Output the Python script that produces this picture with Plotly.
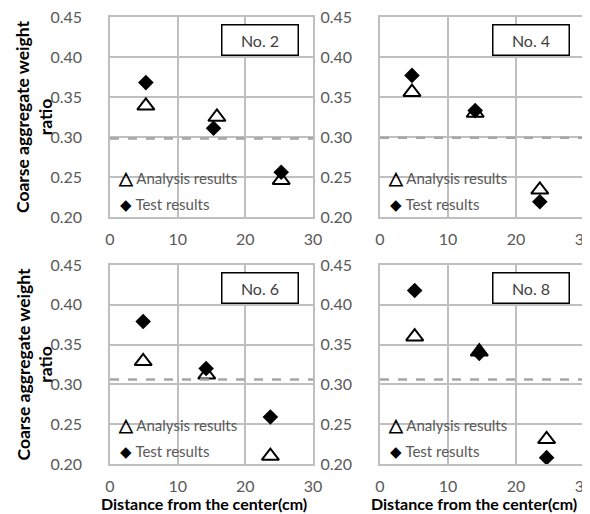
import plotly.graph_objects as go

panels = ["No. 2", "No. 4", "No. 6", "No. 8"]
analysis_x = [[5.3, 15.8, 25.3], [4.7, 14.0, 23.5], [4.9, 14.3, 23.7], [5.1, 14.6, 24.5]]
analysis_y = [[0.339, 0.325, 0.246], [0.356, 0.330, 0.234], [0.329, 0.312, 0.210], [0.360, 0.341, 0.231]]
test_x = [[5.3, 15.3, 25.3], [4.7, 14.0, 23.5], [4.9, 14.2, 23.7], [5.1, 14.6, 24.5]]
test_y = [[0.368, 0.311, 0.256], [0.377, 0.333, 0.219], [0.379, 0.320, 0.259], [0.418, 0.339, 0.208]]
reference_line = [0.298, 0.299, 0.306, 0.306]
x_ticks = [0, 10, 20, 30]
y_ticks = [0.20, 0.25, 0.30, 0.35, 0.40, 0.45]
legend_names = ["Analysis results", "Test results"]

W, H = 590, 514
OFF = 8  # page body margin


def px(v):
    return (v - OFF) / W


def py(v):
    return 1 - (v - OFF) / H


xdom = [[px(110), px(313)], [px(380), px(584)]]
ydom = [[py(217), py(17)], [py(464), py(265)]]
xtitle_centers = [px(204), px(474)]

FONT = "Lato, 'Open Sans', sans-serif"
GRID = "#bfbfbf"
TXT = "#595959"

fig = go.Figure()
layout = dict(width=W, height=H, margin=dict(l=0, r=0, t=0, b=0, autoexpand=False),
              paper_bgcolor="white", plot_bgcolor="white", showlegend=False,
              font=dict(family=FONT))
annotations = []
shapes = []

for i, name in enumerate(panels):
    col = i % 2
    row = i // 2
    ax = "" if i == 0 else str(i + 1)
    xa, ya = "x" + ax, "y" + ax
    fig.add_trace(go.Scatter(x=analysis_x[i], y=analysis_y[i], mode="markers", name=legend_names[0],
                             xaxis=xa, yaxis=ya,
                             marker=dict(symbol="triangle-up-open", size=15, color="black",
                                         line=dict(width=2, color="black"))))
    fig.add_trace(go.Scatter(x=test_x[i], y=test_y[i], mode="markers", name=legend_names[1],
                             xaxis=xa, yaxis=ya,
                             marker=dict(symbol="diamond", size=12, color="black")))
    layout["xaxis" + ax] = dict(domain=xdom[col], range=[0, 30], tickvals=x_ticks,
                                showgrid=True, gridcolor=GRID, gridwidth=1.5,
                                showline=True, linecolor=GRID, linewidth=1.5, mirror=True,
                                zeroline=False, ticks="", anchor=ya, ticklabelstandoff=7,
                                automargin=False, ticklabeloverflow="allow",
                                tickfont=dict(size=16, color=TXT, family=FONT))
    layout["yaxis" + ax] = dict(domain=ydom[row], range=[0.2, 0.45], tickvals=y_ticks,
                                tickformat=".2f", showgrid=True, gridcolor=GRID, gridwidth=1.5,
                                showline=True, linecolor=GRID, linewidth=1.5, mirror=True,
                                zeroline=False, ticks="", anchor=xa, ticklabelstandoff=23,
                                automargin=False, ticklabeloverflow="allow",
                                tickfont=dict(size=16, color=TXT, family=FONT))
    x0, x1 = xdom[col]
    y0, y1 = ydom[row]
    shapes.append(dict(type="line", xref=xa + " domain", yref=ya, x0=0, x1=1,
                       y0=reference_line[i], y1=reference_line[i],
                       line=dict(color="#a6a6a6", width=2.5, dash="dash")))
    annotations.append(dict(text=name, xref=xa + " domain", yref=ya + " domain",
                            x=0.74, y=0.885, xanchor="center", yanchor="middle", showarrow=False,
                            bordercolor="black", borderwidth=1.5, bgcolor="white", borderpad=1,
                            width=73, height=27, font=dict(size=16, color="#404040", family=FONT)))
    # in-plot legend
    annotations.append(dict(text='<span style="color:black;font-size:18px"><b>\u25B3</b></span> '
                                 + legend_names[0],
                            xref=xa + " domain", yref=ya + " domain", x=0.03, y=0.2,
                            xanchor="left", yanchor="middle", showarrow=False,
                            font=dict(size=15, color=TXT, family=FONT)))
    annotations.append(dict(text='<span style="color:black">\u25C6</span> ' + legend_names[1],
                            xref=xa + " domain", yref=ya + " domain", x=0.04, y=0.065,
                            xanchor="left", yanchor="middle", showarrow=False,
                            font=dict(size=15, color=TXT, family=FONT)))
    if col == 0:
        annotations.append(dict(text="Coarse aggregate weight<br>ratio", xref="paper", yref="paper",
                                x=px(34), y=(y0 + y1) / 2, textangle=-90, showarrow=False,
                                xanchor="center", yanchor="middle",
                                font=dict(size=17.5, color="black", family=FONT, weight="bold")))
    if row == 1:
        annotations.append(dict(text="Distance from the center(cm)", xref="paper", yref="paper",
                                x=xtitle_centers[col], y=py(503), showarrow=False,
                                xanchor="center", yanchor="middle",
                                font=dict(size=16, color="black", family=FONT, weight="bold")))

layout["annotations"] = annotations
layout["shapes"] = shapes
fig.update_layout(**layout)
fig.write_html("out.html")
